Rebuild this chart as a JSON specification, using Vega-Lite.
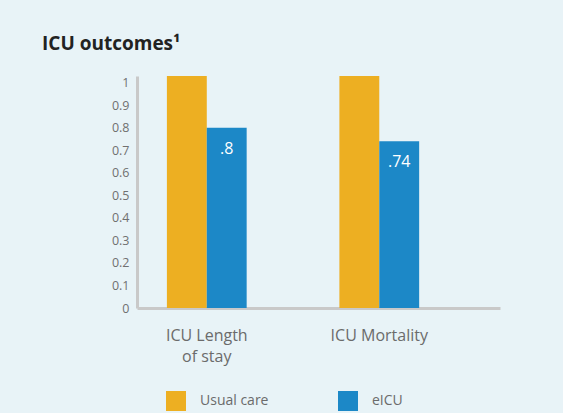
{
  "$schema": "https://vega.github.io/schema/vega-lite/v6.json",
  "width": 363,
  "height": 232,
  "autosize": {"type": "none"},
  "padding": {"left": 137, "top": 76, "right": 63, "bottom": 105},
  "background": "#e8f3f7",
  "config": {
    "view": {"stroke": null},
    "font": "Open Sans"
  },
  "title": {
    "text": "ICU outcomes¹",
    "anchor": "start",
    "frame": "group",
    "dx": -95,
    "baseline": "alphabetic",
    "offset": 7,
    "fontSize": 19,
    "fontWeight": "bold",
    "color": "#222222",
    "font": "Open Sans"
  },
  "data": {
    "values": [
      {"measure": "ICU Length of stay", "group": "Usual care", "value": 1.03, "label": "1"},
      {"measure": "ICU Length of stay", "group": "eICU", "value": 0.8, "label": ".8"},
      {"measure": "ICU Mortality", "group": "Usual care", "value": 1.03, "label": "1"},
      {"measure": "ICU Mortality", "group": "eICU", "value": 0.74, "label": ".74"}
    ]
  },
  "encoding": {
    "x": {
      "field": "measure",
      "type": "nominal",
      "sort": null,
      "scale": {"paddingInner": 0.5376, "paddingOuter": 0.321, "align": 0.27},
      "axis": {
        "title": null,
        "domainColor": "#c9c9c9",
        "domainWidth": 3,
        "ticks": false,
        "labelAngle": 0,
        "labelFontSize": 16,
        "labelColor": "#6b6b6b",
        "labelPadding": 19,
        "labelLineHeight": 21,
        "labelExpr": "datum.value == 'ICU Length of stay' ? ['ICU Length', 'of stay'] : datum.label"
      }
    },
    "xOffset": {
      "field": "group",
      "type": "nominal",
      "scale": {"domain": ["Usual care", "eICU"], "paddingInner": 0, "paddingOuter": 0}
    },
    "y": {
      "field": "value",
      "type": "quantitative",
      "scale": {"domain": [0, 1.03], "nice": false},
      "axis": {
        "title": null,
        "values": [0, 0.1, 0.2, 0.3, 0.4, 0.5, 0.6, 0.7, 0.8, 0.9, 1],
        "format": "~g",
        "grid": false,
        "ticks": false,
        "domainColor": "#c9c9c9",
        "domainWidth": 3,
        "labelFontSize": 12.5,
        "labelColor": "#707070",
        "labelPadding": 8
      }
    }
  },
  "layer": [
    {
      "mark": {"type": "bar"},
      "encoding": {
        "color": {
          "field": "group",
          "type": "nominal",
          "scale": {"domain": ["Usual care", "eICU"], "range": ["#edaf22", "#1c88c7"]},
          "legend": {
            "title": null,
            "orient": "none",
            "legendX": 29,
            "legendY": 315,
            "direction": "horizontal",
            "columns": 2,
            "columnPadding": 69,
            "symbolType": "square",
            "symbolSize": 400,
            "symbolStrokeWidth": 0,
            "labelFontSize": 14,
            "labelColor": "#6b6b6b",
            "labelOffset": 14,
            "padding": 0
          }
        }
      }
    },
    {
      "transform": [{"filter": "datum.group == 'eICU'"}],
      "mark": {"type": "text", "baseline": "top", "dy": 13, "fontSize": 16, "color": "white"},
      "encoding": {"text": {"field": "label"}}
    }
  ]
}
